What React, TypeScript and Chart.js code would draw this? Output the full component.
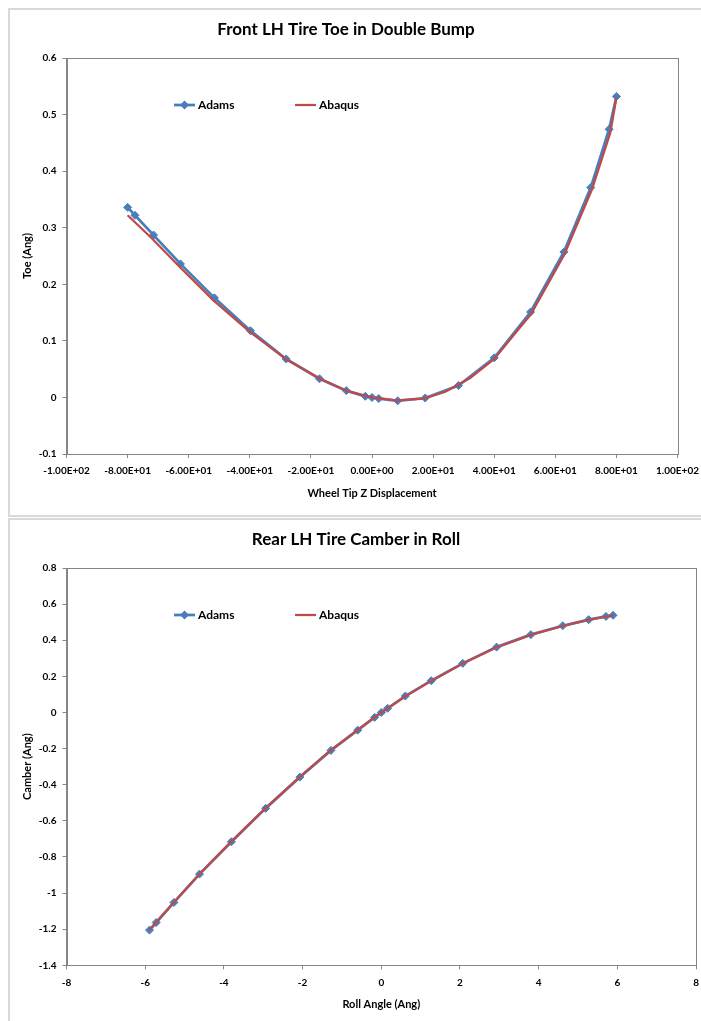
import React, { useEffect, useRef } from 'react';
import { Chart, registerables } from 'chart.js';

Chart.register(...registerables);

// ---------- data ----------
const toeTitle = 'Front LH Tire Toe in Double Bump';
const toeXTitle = 'Wheel Tip Z Displacement';
const toeYTitle = 'Toe (Ang)';
const toeAdamsX = [-80, -77.6, -71.5, -62.7, -51.6, -39.8, -28.1, -17.2, -8.4, -2.2, 0, 2.2, 8.4, 17.4, 28.3, 40.0, 51.9, 62.8, 71.6, 77.6, 80.0];
const toeAdamsY = [0.336, 0.322, 0.287, 0.236, 0.176, 0.118, 0.068, 0.033, 0.012, 0.002, 0.0, -0.002, -0.006, -0.001, 0.021, 0.070, 0.151, 0.257, 0.371, 0.474, 0.532];
const toeAbaqusX = [-80, -72, -63, -52, -40, -28, -17, -8, 0, 8, 17, 24, 32, 40, 48, 52, 63, 72, 78, 80];
const toeAbaqusY = [0.322, 0.281, 0.231, 0.172, 0.116, 0.067, 0.033, 0.011, 0.0, -0.005, -0.002, 0.010, 0.034, 0.068, 0.121, 0.147, 0.253, 0.368, 0.468, 0.530];

const camTitle = 'Rear LH Tire Camber in Roll';
const camXTitle = 'Roll Angle (Ang)';
const camYTitle = 'Camber (Ang)';
const rollAdamsX = [-5.89, -5.72, -5.27, -4.62, -3.81, -2.94, -2.07, -1.28, -0.60, -0.17, 0, 0.16, 0.61, 1.27, 2.07, 2.93, 3.80, 4.61, 5.27, 5.71, 5.89];
const camberAdamsY = [-1.205, -1.163, -1.052, -0.895, -0.716, -0.531, -0.358, -0.210, -0.098, -0.027, 0.0, 0.023, 0.091, 0.176, 0.272, 0.362, 0.431, 0.480, 0.514, 0.532, 0.538];
const rollAbaqusX = [-5.89, -5.72, -5.27, -4.62, -3.81, -2.94, -2.07, -1.28, -0.60, -0.17, 0, 0.16, 0.61, 1.27, 2.07, 2.93, 3.80, 4.61, 5.27, 5.71, 5.89];
const camberAbaqusY = [-1.203, -1.162, -1.051, -0.894, -0.715, -0.530, -0.357, -0.209, -0.097, -0.026, 0.0, 0.023, 0.090, 0.175, 0.271, 0.361, 0.430, 0.479, 0.513, 0.530, 0.536];

const seriesNames = ['Adams', 'Abaqus'];

// ---------- style ----------
const BLUE = '#4A7EBB';
const RED = '#BE4B48';
const AXIS = '#868686';
const FONT = 'Lato, "Open Sans", sans-serif';

function plain(v: number): string {
  const r = Math.round(v * 1e6) / 1e6;
  return String(r === 0 ? 0 : r);
}

function sci(v: number): string {
  const r = Math.round(v * 1e6) / 1e6;
  if (r === 0) return '0.00E+00';
  const e = Math.floor(Math.log10(Math.abs(r)));
  const m = r / Math.pow(10, e);
  return m.toFixed(2) + 'E' + (e < 0 ? '-' : '+') + String(Math.abs(e)).padStart(2, '0');
}

const plotBorder = {
  id: 'plotBorder',
  beforeDatasetsDraw(chart: any) {
    const { ctx, chartArea } = chart;
    ctx.save();
    ctx.strokeStyle = AXIS;
    ctx.lineWidth = 1;
    ctx.strokeRect(
      Math.round(chartArea.left) + 0.5,
      Math.round(chartArea.top) + 0.5,
      Math.round(chartArea.right) - Math.round(chartArea.left),
      Math.round(chartArea.bottom) - Math.round(chartArea.top)
    );
    ctx.restore();
  },
};

const insideLegend = {
  id: 'insideLegend',
  afterDraw(chart: any) {
    const { ctx, chartArea } = chart;
    const offsets = [107.5, 228.5];
    const y = chartArea.top + 47;
    ctx.save();
    const list = chart.data.datasets.slice().sort((a: any, b: any) => a.legendIndex - b.legendIndex);
    list.forEach((ds: any, i: number) => {
      const x0 = chartArea.left + offsets[i];
      ctx.strokeStyle = ds.borderColor;
      ctx.lineWidth = ds.borderWidth;
      ctx.beginPath();
      ctx.moveTo(x0, y);
      ctx.lineTo(x0 + 21, y);
      ctx.stroke();
      if (ds.pointRadius > 0) {
        const cx = x0 + 10.5;
        const r = ds.pointRadius + 0.5;
        ctx.fillStyle = ds.backgroundColor;
        ctx.beginPath();
        ctx.moveTo(cx, y - r);
        ctx.lineTo(cx + r, y);
        ctx.lineTo(cx, y + r);
        ctx.lineTo(cx - r, y);
        ctx.closePath();
        ctx.fill();
      }
      ctx.fillStyle = '#000';
      ctx.font = `bold 12px ${FONT}`;
      ctx.textBaseline = 'middle';
      ctx.textAlign = 'left';
      ctx.fillText(ds.label, x0 + 24, y);
    });
    ctx.restore();
  },
};

type Spec = {
  title: string;
  xTitle: string;
  yTitle: string;
  ax: number[]; ay: number[];
  bx: number[]; by: number[];
  xMin: number; xMax: number; xStep: number;
  yMin: number; yMax: number; yStep: number;
  xFmt: (v: number) => string;
  rightPad: number;
  xH: number;
  xTitlePad: number;
};

function makeConfig(s: Spec): any {
  return {
    type: 'scatter',
    data: {
      datasets: [
        {
          label: seriesNames[1],
          legendIndex: 1,
          data: s.bx.map((x, i) => ({ x, y: s.by[i] })),
          showLine: true,
          borderColor: RED,
          backgroundColor: RED,
          borderWidth: 2.25,
          pointRadius: 0,
          pointHoverRadius: 0,
          tension: 0,
          order: 0,
        },
        {
          label: seriesNames[0],
          legendIndex: 0,
          data: s.ax.map((x, i) => ({ x, y: s.ay[i] })),
          showLine: true,
          borderColor: BLUE,
          backgroundColor: BLUE,
          borderWidth: 2.75,
          pointStyle: 'rectRot',
          pointRadius: 4,
          pointBorderWidth: 1,
          pointBorderColor: BLUE,
          pointBackgroundColor: BLUE,
          tension: 0,
          order: 1,
        },
      ],
    },
    options: {
      responsive: false,
      animation: false,
      events: [],
      layout: { padding: { left: 0, right: s.rightPad, top: 0, bottom: 0 } },
      plugins: {
        legend: { display: false },
        tooltip: { enabled: false },
        title: {
          display: true,
          text: s.title,
          color: '#000',
          font: { family: FONT, size: 17, weight: 'bold', lineHeight: 1.2 },
          padding: { top: 9, bottom: 18.6 },
        },
      },
      scales: {
        x: {
          type: 'linear',
          min: s.xMin,
          max: s.xMax,
          ticks: {
            stepSize: s.xStep,
            autoSkip: false,
            maxRotation: 0,
            color: '#000',
            padding: 7,
            font: { family: FONT, size: 10, weight: 'bold' },
            callback: (v: number) => s.xFmt(v),
          },
          grid: { drawOnChartArea: false, drawTicks: true, tickLength: 4, color: AXIS },
          border: { display: true, color: AXIS, width: 1 },
          title: {
            display: true,
            text: s.xTitle,
            color: '#000',
            font: { family: FONT, size: 11, weight: 'bold', lineHeight: 1.2 },
            padding: { top: 0, bottom: s.xTitlePad },
          },
          afterFit: (sc: any) => { sc.height = s.xH; },
        },
        y: {
          type: 'linear',
          min: s.yMin,
          max: s.yMax,
          ticks: {
            stepSize: s.yStep,
            autoSkip: false,
            color: '#000',
            padding: 6,
            font: { family: FONT, size: 10, weight: 'bold' },
            callback: (v: number) => plain(v),
          },
          grid: { drawOnChartArea: false, drawTicks: true, tickLength: 4, color: AXIS },
          border: { display: true, color: AXIS, width: 1 },
          title: {
            display: true,
            text: s.yTitle,
            color: '#000',
            font: { family: FONT, size: 11, weight: 'bold', lineHeight: 1.2 },
            padding: { top: 11, bottom: 0 },
          },
          afterFit: (sc: any) => { sc.width = 56.5; },
        },
      },
    },
    plugins: [plotBorder, insideLegend],
  };
}

function ChartCanvas({ spec, width, height }: { spec: Spec; width: number; height: number }) {
  const ref = useRef<HTMLCanvasElement | null>(null);
  useEffect(() => {
    if (!ref.current) return;
    const chart = new Chart(ref.current, makeConfig(spec));
    return () => chart.destroy();
  }, [spec]);
  return <canvas ref={ref} width={width} height={height} style={{ width, height, display: 'block' }} />;
}

const toeSpec: Spec = {
  title: toeTitle, xTitle: toeXTitle, yTitle: toeYTitle,
  ax: toeAdamsX, ay: toeAdamsY, bx: toeAbaqusX, by: toeAbaqusY,
  xMin: -100, xMax: 100, xStep: 20,
  yMin: -0.1, yMax: 0.6, yStep: 0.1,
  xFmt: sci,
  rightPad: 24,
  xH: 61,
  xTitlePad: 15.1,
};

const camSpec: Spec = {
  title: camTitle, xTitle: camXTitle, yTitle: camYTitle,
  ax: rollAdamsX, ay: camberAdamsY, bx: rollAbaqusX, by: camberAbaqusY,
  xMin: -8, xMax: 8, xStep: 2,
  yMin: -1.4, yMax: 0.8, yStep: 0.2,
  xFmt: plain,
  rightPad: 4,
  xH: 45.7,
  xTitlePad: 0.4,
};

export default function App() {
  return (
    <div style={{ position: 'absolute', left: 0, top: 0, width: 701, height: 1021, overflow: 'hidden', background: '#fff' }}>
      <div style={{ position: 'absolute', left: 8, top: 8, width: 730, height: 509, boxSizing: 'border-box', border: '2px solid #d9d9d9' }} />
      <div style={{ position: 'absolute', left: 10, top: 10 }}>
        <ChartCanvas spec={toeSpec} width={696} height={505} />
      </div>
      <div style={{ position: 'absolute', left: 8, top: 518, width: 730, height: 520, boxSizing: 'border-box', border: '2px solid #d9d9d9' }} />
      <div style={{ position: 'absolute', left: 10, top: 520 }}>
        <ChartCanvas spec={camSpec} width={696} height={491} />
      </div>
    </div>
  );
}
